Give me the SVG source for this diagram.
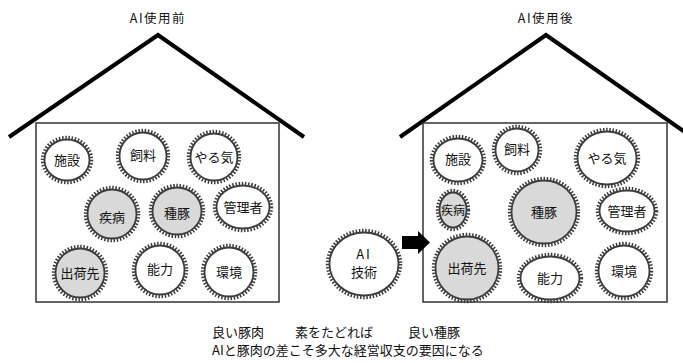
<svg xmlns="http://www.w3.org/2000/svg" width="683" height="363" viewBox="0 0 683 363">
<style>
text{font-family:"Noto Sans CJK JP","Noto Sans",sans-serif;fill:#111}
.lbl{font-size:13px;text-anchor:middle}
.ttl{font-size:12.5px;text-anchor:middle;letter-spacing:1.5px}
.cap{font-size:13px}
.roof{fill:none;stroke:#000;stroke-width:4;stroke-linejoin:miter}
.wall{fill:#fff;stroke:#333;stroke-width:1.5}
.teeth{fill:none;stroke:#3c3c3c;stroke-width:3.2;stroke-dasharray:1.5 1.7}
.w{fill:#fff;stroke:#3c3c3c;stroke-width:1.8}
.g{fill:#d9d9d9;stroke:#3c3c3c;stroke-width:1.8}
</style>
<g id="house-before">
<polyline class="roof" points="9,137 158,35 304,137"/>
<rect class="wall" x="36" y="123" width="243" height="179"/>
<text class="ttl" x="158" y="23">AI使用前</text>
</g>
<g id="house-after">
<polyline class="roof" points="400,137 546,35 692,137"/>
<rect class="wall" x="423" y="123" width="244" height="179"/>
<text class="ttl" x="546" y="23">AI使用後</text>
</g>
<g id="b-shisetsu"><ellipse class="teeth" cx="67" cy="160" rx="24.6" ry="22.6"/><ellipse class="w" cx="67" cy="160" rx="22.5" ry="20.5"/><text class="lbl" x="67" y="165">施設</text></g>
<g id="b-shiryo"><ellipse class="teeth" cx="143" cy="156" rx="25.6" ry="25.6"/><ellipse class="w" cx="143" cy="156" rx="23.5" ry="23.5"/><text class="lbl" x="143" y="160">飼料</text></g>
<g id="b-yaruki"><ellipse class="teeth" cx="214" cy="157" rx="25.6" ry="25.6"/><ellipse class="w" cx="214" cy="157" rx="23.5" ry="23.5"/><text class="lbl" x="214" y="162">やる気</text></g>
<g id="b-shippei"><ellipse class="teeth" cx="112" cy="214" rx="26.6" ry="26.6"/><ellipse class="g" cx="112" cy="214" rx="24.5" ry="24.5"/><text class="lbl" x="112" y="222">疾病</text></g>
<g id="b-shuton"><ellipse class="teeth" cx="177" cy="211" rx="26.6" ry="25.6"/><ellipse class="g" cx="177" cy="211" rx="24.5" ry="23.5"/><text class="lbl" x="177" y="218">種豚</text></g>
<g id="b-kanrisha"><ellipse class="teeth" cx="243" cy="207" rx="28.6" ry="23.6"/><ellipse class="w" cx="243" cy="207" rx="26.5" ry="21.5"/><text class="lbl" x="243" y="212">管理者</text></g>
<g id="b-shukkasaki"><ellipse class="teeth" cx="80" cy="273" rx="26.6" ry="26.6"/><ellipse class="g" cx="80" cy="273" rx="24.5" ry="24.5"/><text class="lbl" x="80" y="278">出荷先</text></g>
<g id="b-noryoku"><ellipse class="teeth" cx="160" cy="270" rx="26.6" ry="26.6"/><ellipse class="w" cx="160" cy="270" rx="24.5" ry="24.5"/><text class="lbl" x="160" y="274">能力</text></g>
<g id="b-kankyo"><ellipse class="teeth" cx="229" cy="272" rx="26.6" ry="26.6"/><ellipse class="w" cx="229" cy="272" rx="24.5" ry="24.5"/><text class="lbl" x="229" y="277">環境</text></g>
<g id="a-shisetsu"><ellipse class="teeth" cx="458" cy="160" rx="26.6" ry="23.6"/><ellipse class="w" cx="458" cy="160" rx="24.5" ry="21.5"/><text class="lbl" x="458" y="164">施設</text></g>
<g id="a-shiryo"><ellipse class="teeth" cx="517" cy="150" rx="23.6" ry="23.6"/><ellipse class="w" cx="517" cy="150" rx="21.5" ry="21.5"/><text class="lbl" x="517" y="154">飼料</text></g>
<g id="a-yaruki"><ellipse class="teeth" cx="607" cy="158" rx="31.6" ry="28.6"/><ellipse class="w" cx="607" cy="158" rx="29.5" ry="26.5"/><text class="lbl" x="607" y="163">やる気</text></g>
<g id="a-shippei"><ellipse class="teeth" cx="453" cy="210" rx="15.6" ry="19.6"/><ellipse class="g" cx="453" cy="210" rx="13.5" ry="17.5"/><text class="lbl" x="453" y="214.5" style="font-size:12px">疾病</text></g>
<g id="a-shuton"><ellipse class="teeth" cx="544" cy="212" rx="34.6" ry="33.6"/><ellipse class="g" cx="544" cy="212" rx="32.5" ry="31.5"/><text class="lbl" x="544" y="217">種豚</text></g>
<g id="a-kanrisha"><ellipse class="teeth" cx="627" cy="211" rx="29.6" ry="22.6"/><ellipse class="w" cx="627" cy="211" rx="27.5" ry="20.5"/><text class="lbl" x="627" y="216">管理者</text></g>
<g id="a-shukkasaki"><ellipse class="teeth" cx="467" cy="268" rx="33.6" ry="33.6"/><ellipse class="g" cx="467" cy="268" rx="31.5" ry="31.5"/><text class="lbl" x="467" y="273">出荷先</text></g>
<g id="a-noryoku"><ellipse class="teeth" cx="550" cy="278" rx="31.6" ry="23.6"/><ellipse class="w" cx="550" cy="278" rx="29.5" ry="21.5"/><text class="lbl" x="550" y="283">能力</text></g>
<g id="a-kankyo"><ellipse class="teeth" cx="624" cy="271" rx="27.6" ry="27.6"/><ellipse class="w" cx="624" cy="271" rx="25.5" ry="25.5"/><text class="lbl" x="624" y="276">環境</text></g>
<g id="ai"><ellipse class="teeth" cx="364" cy="264" rx="36.6" ry="33.6"/><ellipse class="w" cx="364" cy="264" rx="34.5" ry="31.5"/><text class="lbl" x="364" y="259" style="letter-spacing:2px">AI</text><text class="lbl" x="364" y="277">技術</text></g>
<g id="connectors">
<polygon points="402,236 418,236 418,231 430,242.5 418,254 418,249 402,249" fill="#000"/>
</g>
<g id="caption">
<text class="cap" y="337"><tspan x="212">良い豚肉</tspan><tspan x="295">素をたどれば</tspan><tspan x="408">良い種豚</tspan></text>
<text class="cap" x="212" y="355">AIと豚肉の差こそ多大な経営収支の要因になる</text>
</g>
</svg>
